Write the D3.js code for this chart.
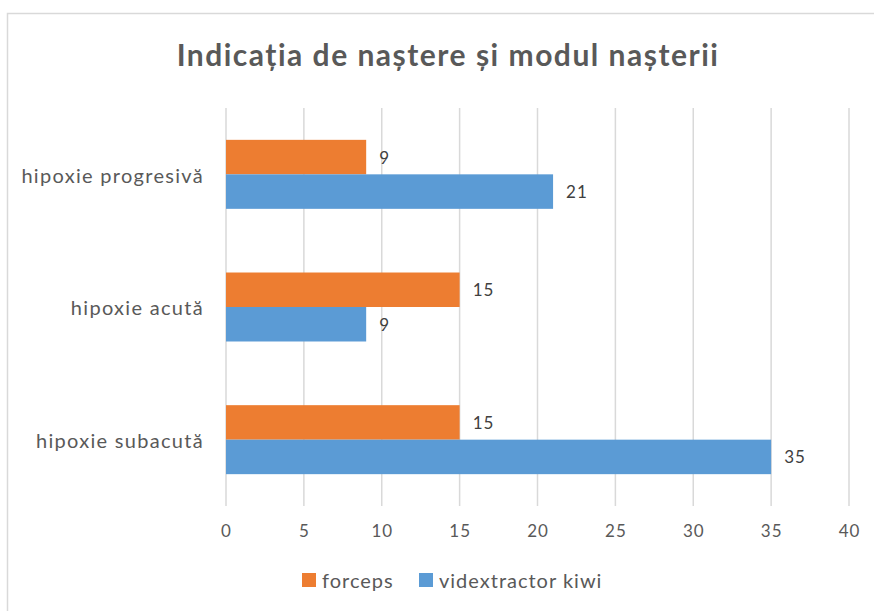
<!DOCTYPE html>
<html>
<head>
<meta charset="utf-8">
<script src="https://cdn.jsdelivr.net/npm/d3@7"></script>
<style>
  body { margin: 0; background: #fff; }
  text { font-family: Lato, "Open Sans", sans-serif; }
</style>
</head>
<body>
<div id="chart"></div>
<script>
// Data
const categories = ["hipoxie progresivă", "hipoxie acută", "hipoxie subacută"];
const seriesNames = ["forceps", "vidextractor kiwi"];
const forceps = [9, 15, 15];
const vidextractor = [21, 9, 35];
const xTicks = [0, 5, 10, 15, 20, 25, 30, 35, 40];

const colors = { "forceps": "#ED7D31", "vidextractor kiwi": "#5B9BD5" };

const W = 874, H = 611;
const margin = { top: 108, right: 25, bottom: 105, left: 226 };
const width = W - margin.left - margin.right;
const height = H - margin.top - margin.bottom;

const svg = d3.select("#chart").append("svg")
    .attr("width", W)
    .attr("height", H);

// chart border
svg.append("rect")
    .attr("x", 7.5).attr("y", 13.5)
    .attr("width", W + 10).attr("height", H + 10)
    .attr("fill", "none")
    .attr("stroke", "#d9d9d9")
    .attr("stroke-width", 1.5);

const g = svg.append("g")
    .attr("transform", `translate(${margin.left},${margin.top})`);

const x = d3.scaleLinear().domain([0, 40]).range([0, width]);

const y = d3.scaleBand()
    .domain(categories)
    .range([0, height])
    .paddingInner(0)
    .paddingOuter(0);

const inner = d3.scaleBand()
    .domain(seriesNames)
    .range([y.bandwidth() * 0.24, y.bandwidth() * 0.76]);

// gridlines
g.selectAll(".grid")
    .data(xTicks)
    .enter().append("line")
    .attr("x1", d => x(d)).attr("x2", d => x(d))
    .attr("y1", 0).attr("y2", height)
    .attr("stroke", "#d9d9d9")
    .attr("stroke-width", 1.5);

// x axis labels
const xAxis = g.append("g")
    .attr("transform", `translate(0,${height})`)
    .call(d3.axisBottom(x).tickValues(xTicks).tickSize(0).tickPadding(19));
xAxis.select(".domain").remove();
xAxis.selectAll("text")
    .style("font-size", "17px")
    .style("fill", "#595959")
    .style("letter-spacing", "1px")
    .style("font-family", "Lato, sans-serif");

// y axis labels
const yAxis = g.append("g")
    .call(d3.axisLeft(y).tickSize(0).tickPadding(22));
yAxis.select(".domain").remove();
yAxis.selectAll("text")
    .attr("dy", "0.42em")
    .style("font-size", "20px")
    .style("fill", "#595959")
    .style("letter-spacing", "1.3px")
    .style("font-family", "Lato, sans-serif");

// bars
const rows = categories.map((c, i) => ({
    category: c,
    values: [
        { name: "forceps", value: forceps[i] },
        { name: "vidextractor kiwi", value: vidextractor[i] }
    ]
}));

const groups = g.selectAll(".group")
    .data(rows)
    .enter().append("g")
    .attr("transform", d => `translate(0,${y(d.category)})`);

groups.selectAll("rect")
    .data(d => d.values)
    .enter().append("rect")
    .attr("x", 0)
    .attr("y", d => inner(d.name))
    .attr("width", d => x(d.value))
    .attr("height", inner.bandwidth())
    .attr("fill", d => colors[d.name]);

groups.selectAll(".label")
    .data(d => d.values)
    .enter().append("text")
    .attr("x", d => x(d.value) + 13)
    .attr("y", d => inner(d.name) + inner.bandwidth() / 2)
    .attr("dy", "0.38em")
    .style("font-size", "17px")
    .style("letter-spacing", "1px")
    .style("fill", "#404040")
    .text(d => d.value);

// title
svg.append("text")
    .attr("x", 448)
    .attr("y", 66)
    .attr("text-anchor", "middle")
    .style("font-size", "30px")
    .style("font-weight", "bold")
    .style("letter-spacing", "1.5px")
    .style("fill", "#595959")
    .text("Indicația de naștere și modul nașterii");

// legend
const legend = svg.append("g").attr("transform", "translate(302,573)");
const legendX = [0, 117];
seriesNames.forEach((s, i) => {
    const lg = legend.append("g").attr("transform", `translate(${legendX[i]},0)`);
    lg.append("rect")
        .attr("width", 14).attr("height", 14)
        .attr("fill", colors[s]);
    lg.append("text")
        .attr("x", 20).attr("y", 7)
        .attr("dy", "0.38em")
        .style("font-size", "20px")
        .style("letter-spacing", "1px")
        .style("fill", "#595959")
        .text(s);
});
</script>
</body>
</html>
